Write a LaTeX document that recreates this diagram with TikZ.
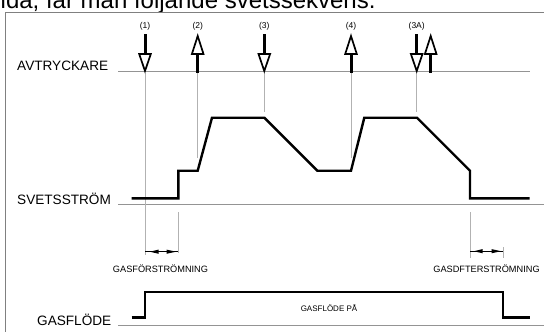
\documentclass[tikz,border=0pt]{standalone}
\usepackage{fontspec}
\setmainfont{Liberation Sans}
\begin{document}
\begin{tikzpicture}[x=1pt,y=-1pt,
  frame/.style={draw=black!50, line width=0.8pt},
  refline/.style={draw=black!42, line width=0.9pt},
  guide/.style={draw=black!30, line width=0.6pt},
  wave/.style={draw=black, line width=2.4pt, line join=miter},
  shaft/.style={draw=black, line width=3pt},
  openhead/.style={draw=black, fill=white, line width=1.7pt, line join=miter},
  dimline/.style={draw=black, line width=0.6pt},
  dimtip/.style={fill=black},
  biglabel/.style={font=\fontsize{13.6}{15}\selectfont, inner sep=0, anchor=base west},
  evlabel/.style={font=\fontsize{8.5}{10}\selectfont, inner sep=0},
  smalllabel/.style={font=\fontsize{9.2}{11}\selectfont, inner sep=0}]
\useasboundingbox (0,0) rectangle (544,332);

% header text (cut at top)
\node[anchor=base west, inner sep=0, font=\fontsize{24}{28}\selectfont] (header) at (0.5,8.5) {ida, får man följande svetssekvens.};

% frame
\coordinate (fTR) at (544,12);
\coordinate (fTL) at (5,12);
\coordinate (fBL) at (5,332);
\draw[frame] (fTR) -- (fTL) -- (fBL);

% reference lines
\coordinate (a1) at (118,71);   \coordinate (a2) at (530,71);
\coordinate (s1) at (118,204.5); \coordinate (s2) at (544,204.5);
\coordinate (g1) at (118,325);  \coordinate (g2) at (544,325);
\draw[refline] (a1) -- (a2);
\draw[refline] (s1) -- (s2);
\draw[refline] (g1) -- (g2);

% row labels
\node[biglabel] (avt) at (17,70.5) {AVTRYCKARE};
\node[biglabel] (svs) at (17,204) {SVETSSTRÖM};
\node[biglabel] (gas) at (37,325) {GASFLÖDE};

% guide lines
\coordinate (v1a) at (145,73);   \coordinate (v1b) at (145,255);
\coordinate (v2a) at (197.7,73); \coordinate (v2b) at (197.7,158);
\coordinate (v3a) at (264.3,73); \coordinate (v3b) at (264.3,111.5);
\coordinate (v4a) at (351,73);   \coordinate (v4b) at (351,158);
\coordinate (v5a) at (416.7,73); \coordinate (v5b) at (416.7,111.5);
\coordinate (v6a) at (178.3,212); \coordinate (v6b) at (178.3,253);
\coordinate (v7a) at (470,212);  \coordinate (v7b) at (470,258);
\coordinate (v8a) at (503,247);  \coordinate (v8b) at (503,258);
\foreach \v in {1,...,8} {\draw[guide] (v\v a) -- (v\v b);}

% welding current waveform
\coordinate (w0) at (131.7,198.3);
\coordinate (w1) at (178.3,198.3);
\coordinate (w2) at (178.3,170.7);
\coordinate (w3) at (197.7,170.7);
\coordinate (w4) at (212,117.7);
\coordinate (w5) at (264.3,117.7);
\coordinate (w6) at (317.3,170.7);
\coordinate (w7) at (351,170.7);
\coordinate (w8) at (364.3,117.7);
\coordinate (w9) at (417,117.7);
\coordinate (w10) at (470,170.7);
\coordinate (w11) at (470,198.3);
\coordinate (w12) at (529.7,198.3);
\draw[wave] (w0) -- (w1) -- (w2) -- (w3) -- (w4) -- (w5) -- (w6) -- (w7) -- (w8) -- (w9) -- (w10) -- (w11) -- (w12);

% gas flow waveform
\coordinate (q0) at (131.7,317.3);
\coordinate (q1) at (145,317.3);
\coordinate (q2) at (145,291.7);
\coordinate (q3) at (503,291.7);
\coordinate (q4) at (503,317.3);
\coordinate (q5) at (529.7,317.3);
\draw[wave] (q0) -- (q1) -- (q2) -- (q3) -- (q4) -- (q5);
\node[font=\fontsize{8}{10}\selectfont, inner sep=0] (gaspa) at (329,308) {GASFLÖDE PÅ};

% trigger arrows: down
\foreach \x/\n in {145/1, 264.3/3, 416.7/5} {
  \draw[shaft] (\x,34) -- (\x,55);
  \draw[openhead] (\x-5.8,54) -- (\x+5.8,54) -- (\x,71) -- cycle;
}
% trigger arrows: up
\foreach \x/\n in {197.7/2, 351/4, 430.7/6} {
  \draw[shaft] (\x,53) -- (\x,73);
  \draw[openhead] (\x-5.8,54) -- (\x+5.8,54) -- (\x,36) -- cycle;
}

% event labels
\node[evlabel] (e1) at (145,26) {(1)};
\node[evlabel] (e2) at (197.7,26) {(2)};
\node[evlabel] (e3) at (264.3,26) {(3)};
\node[evlabel] (e4) at (351,26) {(4)};
\node[evlabel] (e5) at (416.7,26) {(3A)};

% dimension arrows
\draw[dimline] (v1b |- 0,251.7) -- (v6b |- 0,251.7);
\fill[dimtip] (150,251.7) -- (158.5,249.6) -- (158.5,253.8) -- cycle;
\fill[dimtip] (176,251.7) -- (166.5,249.6) -- (166.5,253.8) -- cycle;
\draw[dimline] (v7b |- 0,251.2) -- (v8b |- 0,251.2);
\fill[dimtip] (474,251.2) -- (482.5,249.1) -- (482.5,253.3) -- cycle;
\fill[dimtip] (501,251.2) -- (491.5,249.1) -- (491.5,253.3) -- cycle;

\node[smalllabel] (pre) at (160.5,269) {GASFÖRSTRÖMNING};
\node[smalllabel] (post) at (486.5,269) {GASDFTERSTRÖMNING};
\end{tikzpicture}
\end{document}
